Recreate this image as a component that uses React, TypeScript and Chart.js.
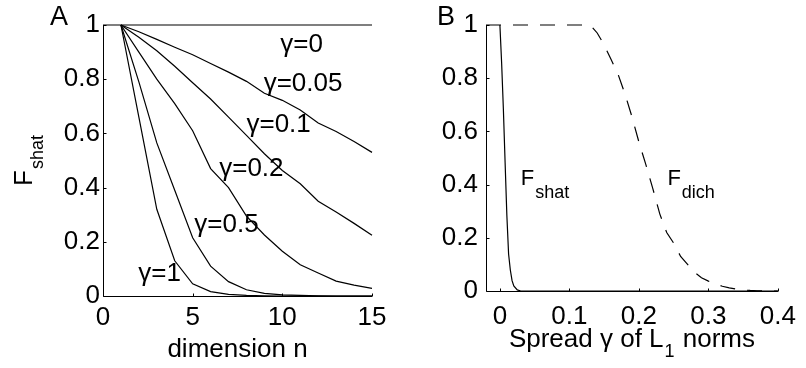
import React, { useEffect, useRef } from "react";
import { Chart, registerables } from "chart.js";
Chart.register(...registerables);

const FONT_FAMILY = '"Liberation Sans", Arial, Helvetica, sans-serif';
const TICK_SIZE = 26;
const TEXT_SIZE = 26;

// ---------- Panel A data ----------
const dimensions = [1, 2, 3, 4, 5, 6, 7, 8, 9, 10, 11, 12, 13, 14, 15];
const gamma0Dims = [0, 15];
const gamma0Vals = [1, 1];
const gamma005Vals = [1, 0.975, 0.947, 0.918, 0.89, 0.858, 0.826, 0.792, 0.748, 0.722, 0.686, 0.638, 0.607, 0.57, 0.53];
const gamma01Vals = [1, 0.955, 0.905, 0.848, 0.787, 0.727, 0.66, 0.593, 0.525, 0.463, 0.414, 0.35, 0.31, 0.268, 0.224];
const gamma02Vals = [1, 0.9, 0.8, 0.71, 0.61, 0.47, 0.4, 0.295, 0.225, 0.165, 0.115, 0.085, 0.055, 0.04, 0.028];
const gamma05Vals = [1, 0.79, 0.565, 0.39, 0.215, 0.11, 0.053, 0.023, 0.01, 0.004, 0.002, 0.001, 0, 0, 0];
const gamma1Vals = [1, 0.66, 0.32, 0.13, 0.045, 0.016, 0.006, 0.002, 0.001, 0, 0, 0, 0, 0, 0];

const curveLabels = ["γ=0", "γ=0.05", "γ=0.1", "γ=0.2", "γ=0.5", "γ=1"];
const curveLabelDim = [9.89, 8.96, 8.0, 6.48, 5.09, 1.97];
const curveLabelVal = [0.9, 0.758, 0.604, 0.444, 0.235, 0.056];

const panelAXTicks = [0, 5, 10, 15];
const fractionTicks = [0, 0.2, 0.4, 0.6, 0.8, 1];

// ---------- Panel B data ----------
const spreadShat = [0, 0.0025, 0.005, 0.0075, 0.01, 0.0125, 0.015, 0.0175, 0.02, 0.025, 0.03, 0.4];
const shatVals = [1, 0.856, 0.683, 0.482, 0.285, 0.139, 0.079, 0.039, 0.019, 0.004, 0, 0];
const spreadDich = [-0.02, 0.13, 0.14, 0.15, 0.16, 0.17, 0.18, 0.19, 0.2, 0.21, 0.22, 0.23, 0.24, 0.25, 0.26, 0.27, 0.28, 0.29, 0.3, 0.31, 0.32, 0.33, 0.34, 0.35, 0.36, 0.37, 0.38, 0.4];
const dichVals = [1, 1, 0.97, 0.925, 0.87, 0.815, 0.74, 0.655, 0.56, 0.475, 0.385, 0.29, 0.22, 0.18, 0.13, 0.1, 0.07, 0.05, 0.037, 0.027, 0.018, 0.012, 0.007, 0.004, 0.002, 0.001, 0, 0];
const panelBXTicks = [0, 0.1, 0.2, 0.3, 0.4];

const pts = (xs: number[], ys: number[]) => xs.map((x, i) => ({ x, y: ys[i] }));

const font = (size: number) => `${size}px ${FONT_FAMILY}`;

function drawAxes(chart: any) {
  const { ctx, chartArea: a, scales } = chart;
  ctx.save();
  ctx.strokeStyle = "#000";
  ctx.lineWidth = 1;
  const L = Math.round(a.left) + 0.5;
  const B = Math.round(a.bottom) + 0.5;
  ctx.beginPath();
  ctx.moveTo(L, a.top);
  ctx.lineTo(L, B);
  ctx.lineTo(a.right, B);
  scales.x.ticks.forEach((t: any) => {
    const px = Math.round(scales.x.getPixelForValue(t.value)) + 0.5;
    ctx.moveTo(px, B);
    ctx.lineTo(px, B - 3);
  });
  scales.y.ticks.forEach((t: any) => {
    const py = Math.round(scales.y.getPixelForValue(t.value)) + 0.5;
    ctx.moveTo(L, py);
    ctx.lineTo(L + 3, py);
  });
  ctx.stroke();
  ctx.restore();
}

function drawWithSub(ctx: CanvasRenderingContext2D, main: string, sub: string, x: number, y: number, size: number, subSize: number, drop: number) {
  ctx.font = font(size);
  const w1 = ctx.measureText(main).width;
  ctx.fillText(main, x, y);
  ctx.font = font(subSize);
  ctx.fillText(sub, x + w1 + 1, y + drop);
}

const lineDataset = (data: any[], dashed = false) => ({
  data,
  borderColor: "#000",
  borderWidth: 1.2,
  pointRadius: 0,
  tension: 0,
  fill: false,
  clip: false as any,
  borderDash: dashed ? [15, 12] : [],
});

function baseOptions(xMin: number, xMax: number, xTicks: number[], yWidth: number, xHeight: number, xPad: number, yPad: number, padding: any) {
  return {
    animation: false as const,
    responsive: false,
    events: [],
    layout: { padding },
    plugins: { legend: { display: false }, tooltip: { enabled: false } },
    scales: {
      x: {
        type: "linear" as const,
        min: xMin,
        max: xMax,
        grid: { display: false, drawTicks: false, tickLength: 0 },
        border: { display: false },
        afterBuildTicks: (s: any) => { s.ticks = xTicks.map((v) => ({ value: v })); },
        afterFit: (s: any) => { s.height = xHeight; },
        ticks: { color: "#000", font: { family: FONT_FAMILY, size: TICK_SIZE }, padding: xPad, maxRotation: 0, autoSkip: false, callback: (v: any) => String(v) },
      },
      y: {
        type: "linear" as const,
        min: 0,
        max: 1,
        grid: { display: false, drawTicks: false, tickLength: 0 },
        border: { display: false },
        afterBuildTicks: (s: any) => { s.ticks = fractionTicks.map((v) => ({ value: v })); },
        afterFit: (s: any) => { s.width = yWidth; },
        ticks: { color: "#000", font: { family: FONT_FAMILY, size: TICK_SIZE }, padding: yPad, autoSkip: false, callback: (v: any) => String(v) },
      },
    },
  };
}

function PanelA() {
  const ref = useRef<HTMLCanvasElement>(null);
  useEffect(() => {
    const plugin = {
      id: "panelA",
      afterDraw(chart: any) {
        drawAxes(chart);
        const { ctx, scales, chartArea: a } = chart;
        ctx.save();
        ctx.fillStyle = "#000";
        ctx.textAlign = "left";
        ctx.textBaseline = "alphabetic";
        ctx.font = font(TEXT_SIZE);
        curveLabels.forEach((t, i) => {
          ctx.fillText(t, scales.x.getPixelForValue(curveLabelDim[i]), scales.y.getPixelForValue(curveLabelVal[i]));
        });
        ctx.textAlign = "center";
        ctx.font = font(TEXT_SIZE);
        ctx.fillText("dimension n", (a.left + a.right) / 2, 357);
        ctx.textAlign = "left";
        ctx.font = font(27);
        ctx.fillText("A", 50, 25);
        ctx.font = font(TEXT_SIZE);
        const wF = ctx.measureText("F").width;
        ctx.font = font(18);
        const wS = ctx.measureText("shat").width;
        const total = wF + 1 + wS;
        ctx.translate(32, (a.top + a.bottom) / 2 + total / 2);
        ctx.rotate(-Math.PI / 2);
        drawWithSub(ctx, "F", "shat", 0, 0, TEXT_SIZE, 18, 11);
        ctx.restore();
      },
    };
    const chart = new Chart(ref.current!, {
      type: "line",
      data: {
        datasets: [
          lineDataset(pts(gamma0Dims, gamma0Vals)),
          lineDataset(pts(dimensions, gamma005Vals)),
          lineDataset(pts(dimensions, gamma01Vals)),
          lineDataset(pts(dimensions, gamma02Vals)),
          lineDataset(pts(dimensions, gamma05Vals)),
          lineDataset(pts(dimensions, gamma1Vals)),
        ],
      },
      options: baseOptions(0, 15, panelAXTicks, 103, 72, 6, 3, { left: 0, right: 31, top: 25, bottom: 0 }) as any,
      plugins: [plugin],
    });
    return () => chart.destroy();
  }, []);
  return <canvas ref={ref} width={403} height={368} style={{ position: "absolute", left: 0, top: 0 }} />;
}

function PanelB() {
  const ref = useRef<HTMLCanvasElement>(null);
  useEffect(() => {
    const plugin = {
      id: "panelB",
      afterDraw(chart: any) {
        drawAxes(chart);
        const { ctx, scales, chartArea: a } = chart;
        ctx.save();
        ctx.fillStyle = "#000";
        ctx.textBaseline = "alphabetic";
        ctx.textAlign = "left";
        const yF = scales.y.getPixelForValue(0.4);
        drawWithSub(ctx, "F", "shat", scales.x.getPixelForValue(0.03), yF, 22, 18, 13);
        drawWithSub(ctx, "F", "dich", scales.x.getPixelForValue(0.241), yF, 22, 18, 13);
        const part1 = "Spread γ of L";
        const sub = "1";
        const part2 = " norms";
        ctx.font = font(TEXT_SIZE);
        const w1 = ctx.measureText(part1).width;
        const w3 = ctx.measureText(part2).width;
        ctx.font = font(18);
        const w2 = ctx.measureText(sub).width;
        const total = w1 + w2 + w3 + 2;
        let x = (a.left + a.right) / 2 - total / 2;
        const y = 347;
        ctx.font = font(TEXT_SIZE);
        ctx.fillText(part1, x, y);
        x += w1 + 1;
        ctx.font = font(18);
        ctx.fillText(sub, x, y + 10);
        x += w2 + 1;
        ctx.font = font(TEXT_SIZE);
        ctx.fillText(part2, x, y);
        ctx.font = font(27);
        ctx.fillText("B", 34, 25);
        ctx.restore();
      },
    };
    const chart = new Chart(ref.current!, {
      type: "line",
      data: {
        datasets: [
          lineDataset(pts(spreadShat, shatVals)),
          lineDataset(pts(spreadDich, dichVals), true),
        ],
      },
      options: baseOptions(-0.02, 0.4, panelBXTicks, 83, 77, 10, 8, { left: 0, right: 19, top: 25, bottom: 0 }) as any,
      plugins: [plugin],
    });
    return () => chart.destroy();
  }, []);
  return <canvas ref={ref} width={403} height={368} style={{ position: "absolute", left: 403, top: 0 }} />;
}

export default function App() {
  return (
    <div style={{ position: "absolute", left: 0, top: 0, width: 806, height: 368, background: "#fff" }}>
      <PanelA />
      <PanelB />
    </div>
  );
}
